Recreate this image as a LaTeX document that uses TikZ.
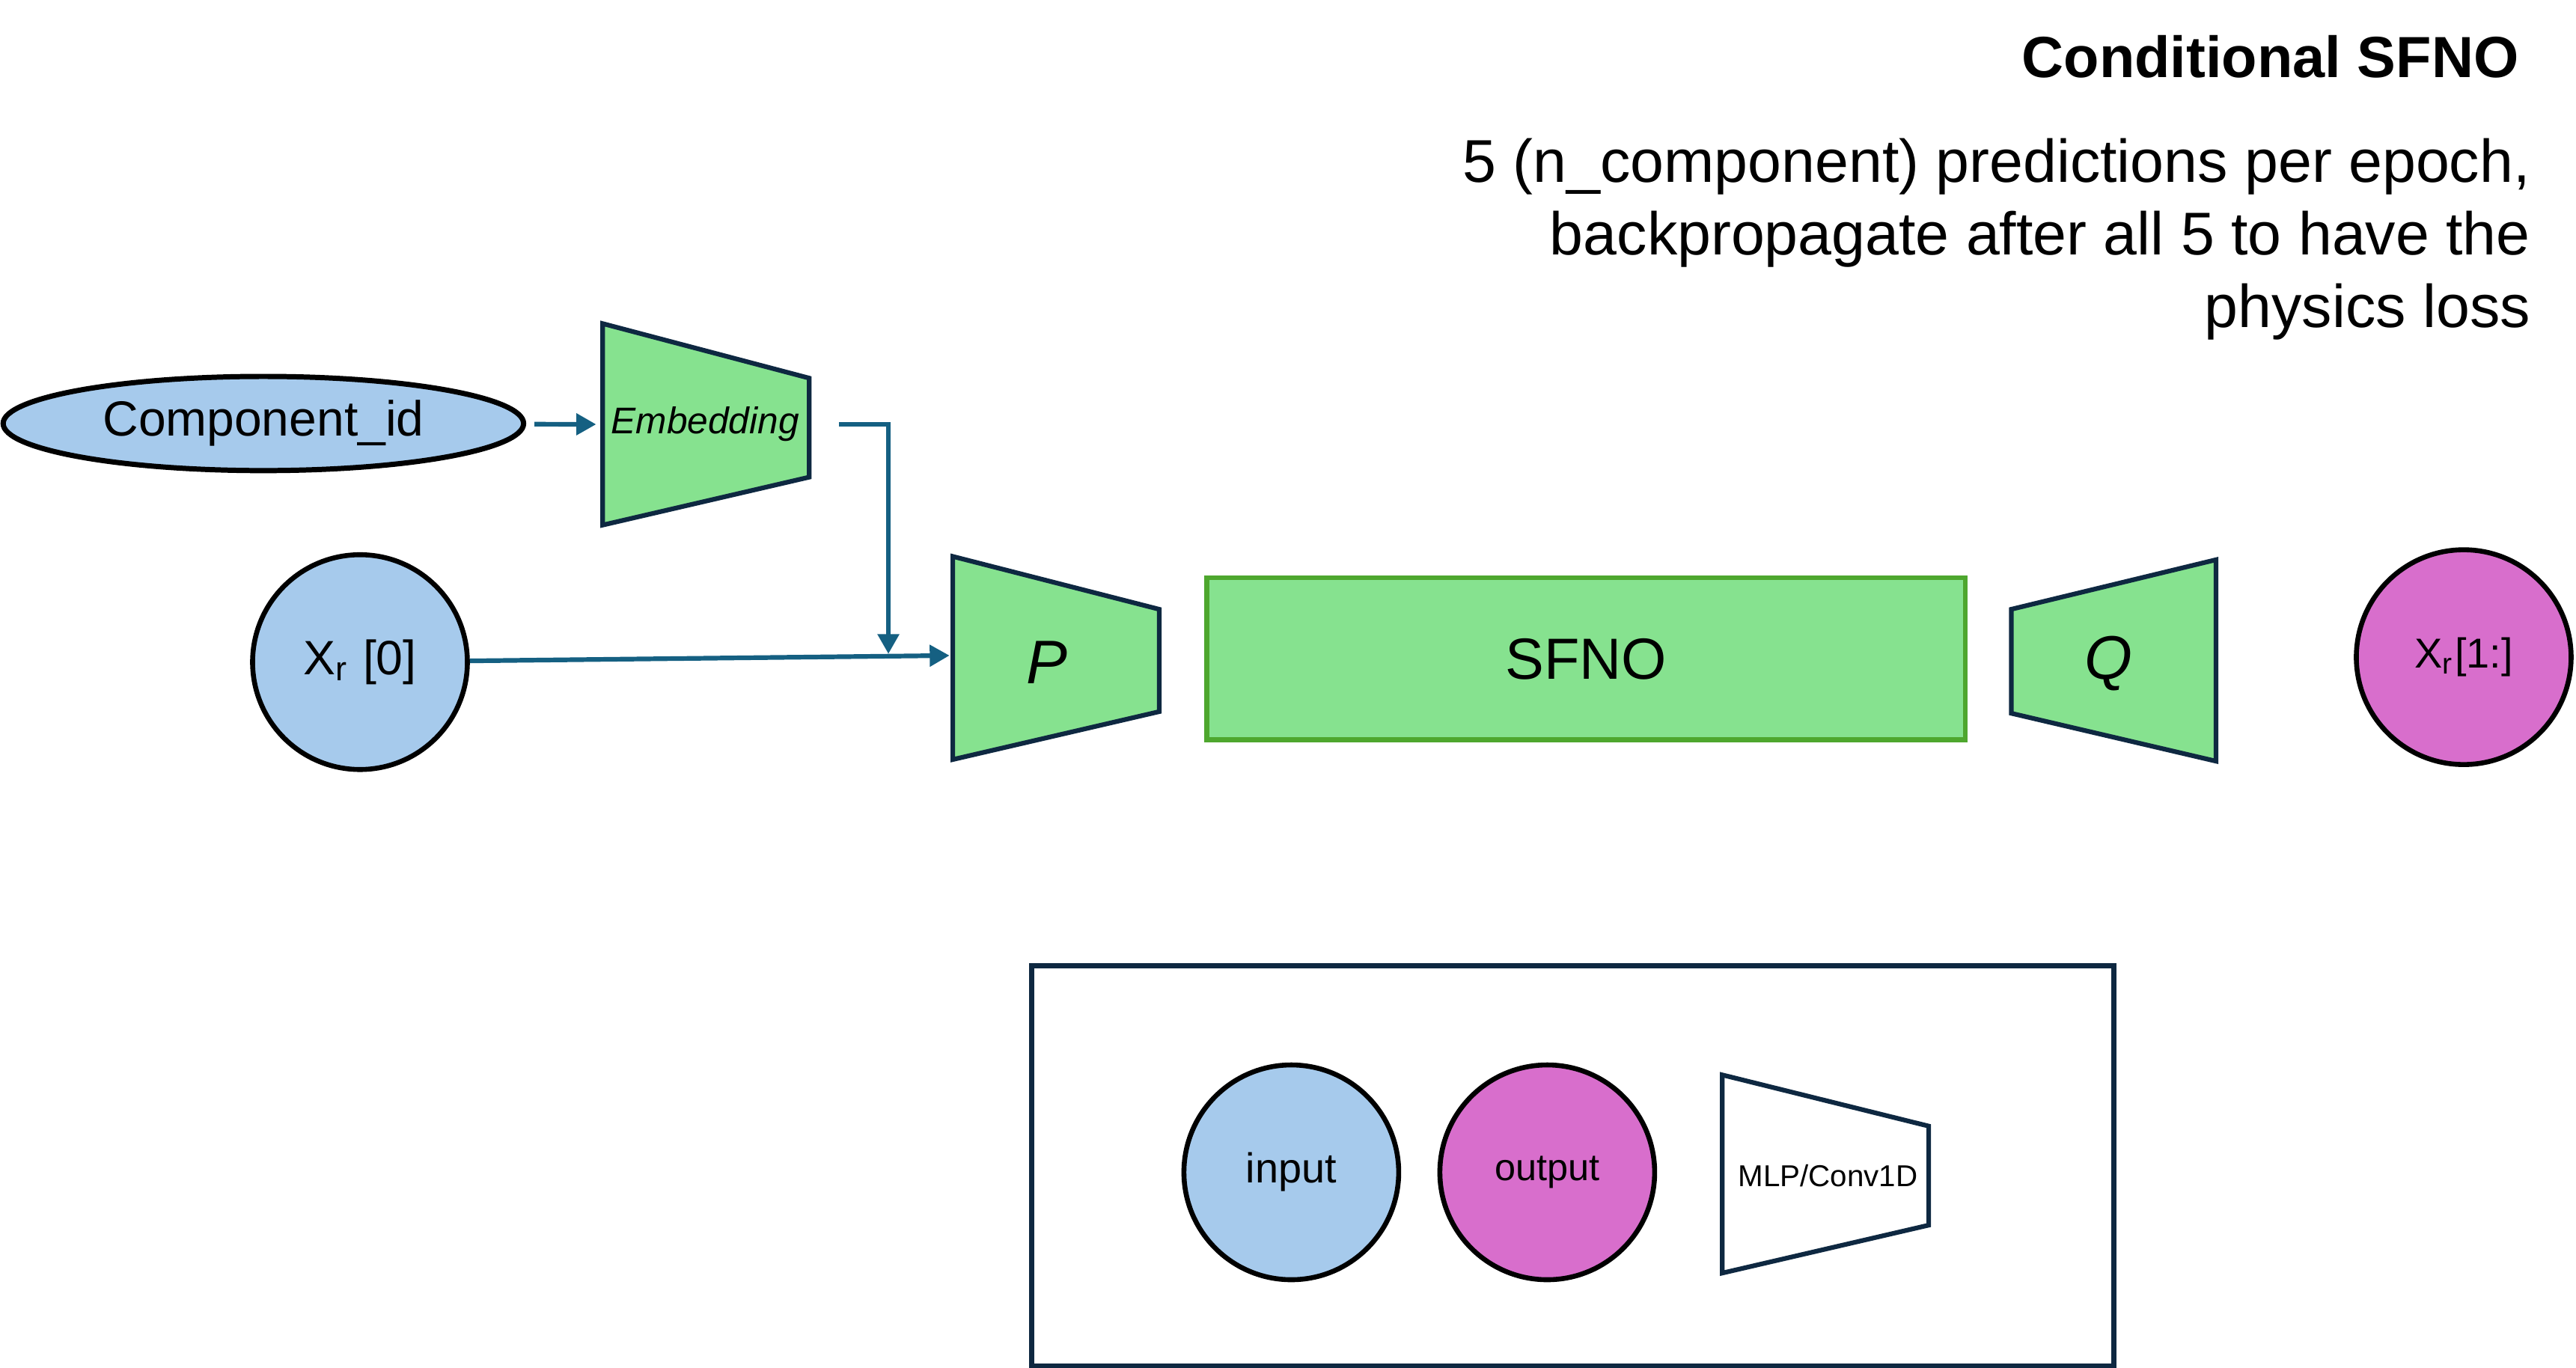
\documentclass[tikz,border=0pt]{standalone}
\usepackage{fontspec}
\setmainfont{Liberation Sans}
\usetikzlibrary{arrows.meta,shapes.geometric}

\definecolor{inblue}{HTML}{A6CAEC}
\definecolor{outpink}{HTML}{D86ECC}
\definecolor{layergreen}{HTML}{86E28F}
\definecolor{sfnogreen}{HTML}{4EA72E}
\definecolor{navy}{HTML}{0E2841}
\definecolor{wire}{HTML}{156082}

\tikzset{
  io/.style={circle, draw=black, line width=0.85pt, minimum size=1.3cm, inner sep=0pt},
  trap/.style={draw=navy, line width=0.8pt, fill=layergreen, line join=miter},
  link/.style={draw=wire, line width=0.8pt, -{Triangle[length=3.4pt,width=3.6pt]}},
}

\begin{document}
\begin{tikzpicture}[x=0.01cm,y=-0.01cm]
\useasboundingbox (0,0) rectangle (1560,828.5);
% heading
\node[anchor=base east, inner sep=0, font=\bfseries\fontsize{10}{12}\selectfont] (title) at (1526,47) {Conditional SFNO};
\node[anchor=north east, inner sep=0, align=right, font=\fontsize{10.4}{12.5}\selectfont] (note) at (1533,83)
  {5 (n\_component) predictions per epoch,\\ backpropagate after all 5 to have the\\ physics loss};
% inputs
\node[ellipse, draw=black, line width=0.9pt, fill=inblue, minimum width=3.15cm, minimum height=0.57cm,
  inner sep=0pt, font=\fontsize{8.5}{10}\selectfont] (comp) at (159.5,256.5) {Component\_id};
\node[io, fill=inblue, font=\fontsize{8.3}{10}\selectfont] (x0) at (218,401) {X\textsubscript{r} [0]};
% embedding
\draw[trap] (365,196) -- (490,229) -- (490,289) -- (365,318) -- cycle;
\node[font=\itshape\fontsize{6.4}{8}\selectfont] (emb) at (427,257) {Embedding};
\coordinate (emb in) at (361,257);
\coordinate (emb out) at (508,257);
% lifting P
\draw[trap] (577,337) -- (702,369) -- (702,431) -- (577,460) -- cycle;
\node[font=\itshape\fontsize{10.6}{12}\selectfont] (P) at (634,401) {P};
\coordinate (P in) at (575,397);
\coordinate (join) at (538,396);
% SFNO block
\node[draw=sfnogreen, fill=layergreen, line width=0.86pt, minimum width=4.59cm, minimum height=0.98cm,
  font=\fontsize{10}{12}\selectfont] (sfno) at (960.5,399) {SFNO};
% projection Q
\draw[trap] (1218,369) -- (1342,339) -- (1342,461) -- (1218,432) -- cycle;
\node[font=\itshape\fontsize{10.6}{12}\selectfont] (Q) at (1277,402) {Q};
% output
\node[io, fill=outpink, font=\fontsize{7.2}{9}\selectfont] (x1) at (1492,398) {X\textsubscript{r}[1:]};

\draw[link, shorten <=0.05cm] (comp) -- (emb in);
\draw[link] (emb out) -| (join);
\draw[link] (x0) -- (P in);

% legend
\node[draw=navy, line width=0.86pt, minimum width=6.55cm, minimum height=2.42cm] (legend) at (952.5,706) {};
\node[io, fill=inblue, font=\fontsize{7.2}{9}\selectfont] (inkey) at (782,710) {input};
\node[io, fill=outpink, font=\fontsize{6.5}{8}\selectfont] (outkey) at (937,710) {output};
\draw[trap, fill=white] (1043,651) -- (1168,682) -- (1168,742) -- (1043,771) -- cycle;
\node[font=\fontsize{5.2}{6}\selectfont] (mlpkey) at (1107,712) {MLP/Conv1D};
\end{tikzpicture}
\end{document}
